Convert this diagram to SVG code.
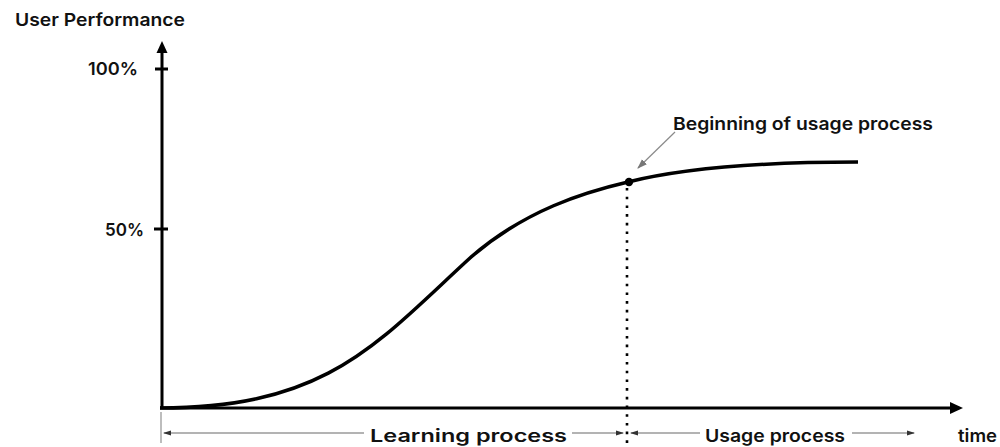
<svg xmlns="http://www.w3.org/2000/svg" width="1000" height="447" viewBox="0 0 1000 447">
<style>
text{font-family:Inter,"Liberation Sans",Arial,sans-serif;font-weight:600;fill:#111}
.lbl{font-size:17.5px}
.axis{stroke:#000;stroke-width:3;fill:none}
.span{stroke:#9a9a9a;stroke-width:1.3;fill:none}
</style>
<defs>
<marker id="ah" viewBox="0 0 8 6" refX="7" refY="3" markerWidth="8" markerHeight="6" markerUnits="userSpaceOnUse" orient="auto-start-reverse">
<path d="M0,0.5 L8,3 L0,5.5 Z" fill="#333"/>
</marker>
<marker id="ah2" viewBox="0 0 10 8" refX="9" refY="4" markerWidth="10" markerHeight="8" markerUnits="userSpaceOnUse" orient="auto">
<path d="M0,0.5 L10,4 L0,7.5 Z" fill="#777"/>
</marker>
</defs>
<g id="axes">
<line class="axis" x1="162" y1="52" x2="162" y2="409"/>
<polygon points="162,41 156.5,53 167.5,53" fill="#000"/>
<line class="axis" x1="160" y1="408" x2="952" y2="408"/>
<polygon points="963,408 950,402 950,414" fill="#000"/>
<line class="axis" x1="155" y1="69" x2="168" y2="69"/>
<line class="axis" x1="154" y1="229" x2="168" y2="229"/>
<text class="lbl" x="15" y="26" textLength="170" lengthAdjust="spacingAndGlyphs">User Performance</text>
<text class="lbl" x="88" y="75" textLength="50" lengthAdjust="spacingAndGlyphs">100%</text>
<text class="lbl" x="105" y="236" textLength="39" lengthAdjust="spacingAndGlyphs">50%</text>
<text class="lbl" x="958" y="442" textLength="39" lengthAdjust="spacingAndGlyphs">time</text>
</g>
<g id="curve">
<path d="M160,408 C328,408 377,343 470,258 C525,210 585,192 628,182 C688,167 770,162 858,162" fill="none" stroke="#000" stroke-width="3.5"/>
<circle cx="629" cy="182" r="4.2" fill="#000"/>
</g>
<g id="usage-start">
<line x1="627" y1="188" x2="627" y2="446" stroke="#000" stroke-width="2.6" stroke-dasharray="2.6 6.1"/>
</g>
<g id="annotation">
<line x1="675" y1="132" x2="638" y2="168" stroke="#8a8a8a" stroke-width="1.2" marker-end="url(#ah2)"/>
<text class="lbl" x="673" y="130" textLength="260" lengthAdjust="spacingAndGlyphs">Beginning of usage process</text>
</g>
<g id="connectors">
<line class="span" x1="161" y1="412" x2="161" y2="443"/>
<line class="span" x1="364" y1="433" x2="164" y2="433" marker-end="url(#ah)"/>
<line class="span" x1="572" y1="433" x2="623" y2="433" marker-end="url(#ah)"/>
<line class="span" x1="700" y1="433" x2="631" y2="433" marker-end="url(#ah)"/>
<line class="span" x1="852" y1="433" x2="914" y2="433" marker-end="url(#ah)"/>
</g>
<g id="learning">
<text class="lbl" x="370" y="442" textLength="197" lengthAdjust="spacingAndGlyphs">Learning process</text>
</g>
<g id="usage">
<text class="lbl" x="705" y="442" textLength="140" lengthAdjust="spacingAndGlyphs">Usage process</text>
</g>
</svg>
